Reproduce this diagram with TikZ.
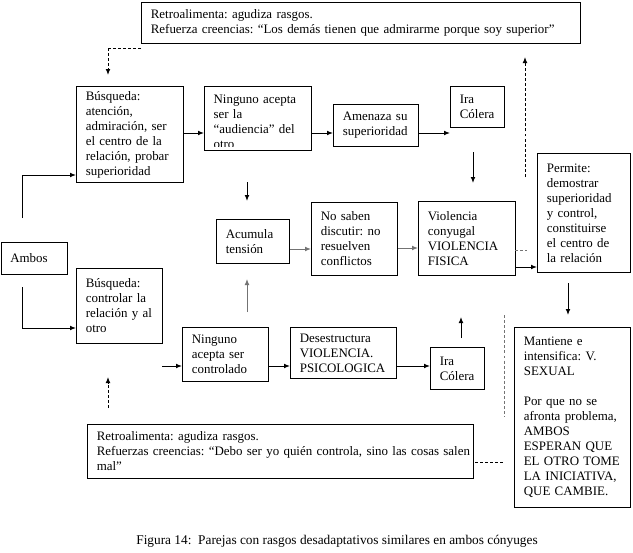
\documentclass[tikz,border=0pt]{standalone}
\usepackage{fontspec}
\setmainfont{Liberation Serif}
\usetikzlibrary{arrows.meta}
\hyphenpenalty=10000
\exhyphenpenalty=10000
\tikzset{
  bx/.style n args={3}{draw, line width=0.75pt, anchor=north west, inner xsep=7pt, inner ysep=0pt,
    minimum width=#1pt, minimum height=#2pt, text width=#3pt, align=left,
    font=\fontsize{9.7}{11.25}\selectfont},
  txt/.style={anchor=north west, inner xsep=7pt, inner ysep=6.25pt, text width=#1pt, align=left,
    font=\fontsize{9.7}{11.25}\selectfont},
  arr/.style={line width=0.75pt, -{Latex[length=4.5pt,width=3.6pt]}},
  dsh/.style={line width=0.75pt, dash pattern=on 2.2pt off 1.6pt},
  gry/.style={draw=black!55},
}
\begin{document}
\begin{tikzpicture}[x=0.75pt,y=-0.75pt]
\useasboundingbox[fill=white] (0,0) rectangle (633,553);
% boxes
\node[bx={329.25}{30.75}{315.25}] (topR) at (141,2)
  {Retroalimenta:~agudiza~rasgos.\\Refuerza~creencias:~“Los~demás~tienen~que~admirarme~porque~soy~superior”};
\node[bx={80.25}{72}{66.25}] (B1) at (76,86)
  {Búsqueda:\\atención,\\admiración,~ser\\el~centro~de~la\\relación,~probar\\superioridad};
\node[bx={80.25}{48}{66.25}] (N1) at (204,86) {};
\begin{scope}
  \clip (204,86) rectangle (311,146);
  \node[txt=66.25] (N1t) at (204,86) {Ninguno~acepta\\ser~la\\“audiencia”~del\\otro};
\end{scope}
\node[bx={63.75}{31.5}{49.75}] (A1) at (333,104) {Amenaza~su\\superioridad};
\node[bx={40.5}{30.75}{26.5}] (I1) at (450,86) {Ira\\Cólera};
\node[bx={69.75}{89.25}{55.75}] (P) at (537,153)
  {Permite:\\demostrar\\superioridad\\y~control,\\constituirse\\el~centro~de\\la~relación};
\node[bx={49.5}{24}{35.5}] (Am) at (0.5,242) {Ambos};
\node[bx={64.5}{56.25}{50.5}] (B2) at (76,268) {Búsqueda:\\controlar~la\\relación~y~al\\otro};
\node[bx={54.75}{33}{40.75}] (Ac) at (216,219) {Acumula\\tensión};
\node[bx={64.5}{54.75}{50.5}] (NS) at (311,202) {No~saben\\discutir:~no\\resuelven\\conflictos};
\node[bx={72.75}{55.5}{58.75}] (V) at (418,201) {Violencia\\conyugal\\VIOLENCIA\\FISICA};
\node[bx={64.5}{40.5}{50.5}] (N2) at (182,327) {Ninguno\\acepta~ser\\controlado};
\node[bx={79.5}{38.25}{65.5}] (D) at (290,327) {Desestructura\\VIOLENCIA.\\PSICOLOGICA};
\node[bx={40.5}{31.5}{26.5}] (I2) at (430,347) {Ira\\Cólera};
\node[bx={87}{135}{73}] (M) at (514,327)
  {Mantiene~e\\intensifica:~V.\\SEXUAL\\[11.25pt]Por~que~no~se\\afronta~problema,\\AMBOS\\ESPERAN~QUE\\EL~OTRO~TOME\\LA~INICIATIVA,\\QUE~CAMBIE.};
\node[bx={289.5}{40.5}{275.5}] (RB) at (87,424)
  {Retroalimenta:~agudiza~rasgos.\\Refuerzas~creencias:~“Debo~ser~yo~quién~controla,~sino~las~cosas~salen\\mal”};
\node[anchor=base east, inner sep=0pt, font=\fontsize{10}{12}\selectfont] (cap) at (538,544)
  {Figura 14:\ \ Parejas con rasgos desadaptativos similares en ambos cónyuges};
% free coordinates
\coordinate (c1) at (22,218);
\coordinate (c2) at (22,287);
\coordinate (c3) at (141,48);
\coordinate (c4) at (108,48);
\coordinate (c5) at (108,75);
\coordinate (c6a) at (473,152); \coordinate (c6b) at (473,183);
\coordinate (c7a) at (525,177); \coordinate (c7b) at (525,57);
\coordinate (c8a) at (247,182); \coordinate (c8b) at (247,201);
\coordinate (c9a) at (247,312); \coordinate (c9b) at (247,279);
\coordinate (c10a) at (515,250); \coordinate (c10b) at (527,250);
\coordinate (c11a) at (568,283); \coordinate (c11b) at (568,315);
\coordinate (c12) at (162,366);
\coordinate (c13a) at (461,338); \coordinate (c13b) at (461,317);
\coordinate (c14a) at (504,315); \coordinate (c14b) at (504,417);
\coordinate (c15a) at (475,462); \coordinate (c15b) at (505,462);
\coordinate (c16a) at (108,408); \coordinate (c16b) at (108,377);
% connectors
\draw[arr] (c1) |- (B1.west |- 0,175);
\draw[arr] (c2) |- (B2.west |- 0,328);
\draw[dsh] (c3) -- (c4);
\draw[dsh,-{Latex[length=4.5pt,width=3.6pt]}] (c4) -- (c5);
\draw[arr] (B1.east |- 0,133) -- (N1.west |- 0,133);
\draw[arr] (N1.east |- 0,133) -- (A1.west |- 0,133);
\draw[arr] (A1.east |- 0,133) -- (I1.west |- 0,133);
\draw[arr] (c6a) -- (c6b);
\draw[dsh,-{Latex[length=4.5pt,width=3.6pt]}] (c7a) -- (c7b);
\draw[arr] (c8a) -- (c8b);
\draw[arr,gry] (Ac.east |- 0,249) -- (NS.west |- 0,249);
\draw[arr,gry] (NS.east |- 0,248) -- (V.west |- 0,248);
\draw[arr,gry] (c9a) -- (c9b);
\draw[dsh,gry] (c10a) -- (c10b);
\draw[arr] (V.east |- 0,267) -- (P.west |- 0,267);
\draw[arr] (c11a) -- (c11b);
\draw[arr] (c12) -- (N2.west |- 0,366);
\draw[arr] (N2.east |- 0,366) -- (D.west |- 0,366);
\draw[arr] (D.east |- 0,366) -- (I2.west |- 0,366);
\draw[arr] (c13a) -- (c13b);
\draw[dsh,gry] (c14a) -- (c14b);
\draw[dsh] (c15a) -- (c15b);
\draw[dsh,-{Latex[length=4.5pt,width=3.6pt]}] (c16a) -- (c16b);
\end{tikzpicture}
\end{document}
